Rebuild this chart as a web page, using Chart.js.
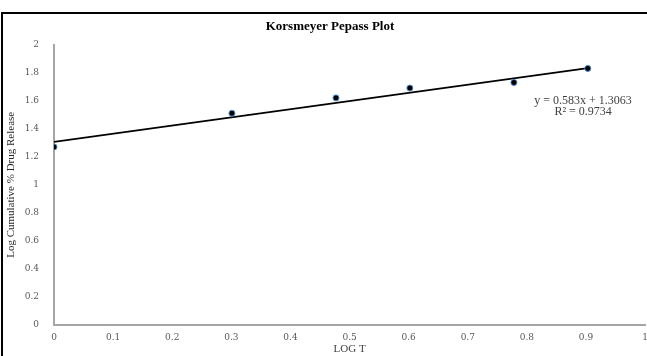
<!DOCTYPE html>
<html>
<head>
<meta charset="utf-8">
<script src="https://cdn.jsdelivr.net/npm/chart.js@4.4.1/dist/chart.umd.min.js"></script>
<style>
  html, body { margin: 0; padding: 0; background: #fff; overflow: hidden; }
  #frame { position: absolute; left: 1px; top: 12px; width: 700px; height: 400px; border: 2px solid #000; }
  #wrap { position: absolute; left: 0; top: 0; width: 655px; height: 356px; }
</style>
</head>
<body>
<div id="frame"></div>
<div id="wrap"><canvas id="chart"></canvas></div>
<script>
// Korsmeyer Peppas: log T vs log cumulative % drug release
const logT = [0, 0.301, 0.477, 0.602, 0.778, 0.903];
const logRelease = [1.27, 1.51, 1.62, 1.69, 1.73, 1.83];

// Linear trendline ends (y = 0.583x + 1.3063)
const trendX = [0, 0.903];
const trendY = [1.3063, 1.8328];

const xTicks = [0, 0.1, 0.2, 0.3, 0.4, 0.5, 0.6, 0.7, 0.8, 0.9, 1];
const yTicks = [0, 0.2, 0.4, 0.6, 0.8, 1, 1.2, 1.4, 1.6, 1.8, 2];

const equationLines = ['y = 0.583x + 1.3063', 'R\u00b2 = 0.9734'];

const serif = '"Liberation Serif", "Times New Roman", serif';

// Texto da equação perto da linha de tendência
const equationLabel = {
    id: 'equationLabel',
    afterDatasetsDraw(chart) {
        const ctx = chart.ctx;
        const x = chart.scales.x.getPixelForValue(0.895);
        const y = chart.scales.y.getPixelForValue(1.6);
        ctx.save();
        ctx.font = '12px ' + serif;
        ctx.fillStyle = '#404040';
        ctx.textAlign = 'center';
        ctx.textBaseline = 'middle';
        ctx.fillText(equationLines[0], x, y);
        ctx.fillText(equationLines[1], x, y + 11);
        ctx.restore();
    }
};

new Chart(document.getElementById('chart'), {
    type: 'scatter',
    data: {
        datasets: [
            {
                label: 'Trendline',
                data: trendX.map((v, i) => ({ x: v, y: trendY[i] })),
                showLine: true,
                borderColor: '#000',
                borderWidth: 1.7,
                pointRadius: 0,
                order: 2
            },
            {
                label: 'Log cumulative % drug release',
                data: logT.map((v, i) => ({ x: v, y: logRelease[i] })),
                pointRadius: 3,
                pointBackgroundColor: '#000',
                pointBorderColor: '#4a86c8',
                pointBorderWidth: 1,
                order: 1
            }
        ]
    },
    options: {
        responsive: true,
        maintainAspectRatio: false,
        animation: false,
        layout: { padding: { left: 5, top: 19, right: 0, bottom: 0 } },
        plugins: {
            legend: { display: false },
            tooltip: { enabled: false },
            title: {
                display: true,
                text: 'Korsmeyer Pepass Plot',
                color: '#000',
                font: { family: serif, size: 13, weight: 'bold' },
                padding: { top: 0, bottom: 10 }
            }
        },
        scales: {
            x: {
                type: 'linear',
                min: 0,
                max: 1,
                afterBuildTicks: axis => { axis.ticks = xTicks.map(v => ({ value: v })); },
                afterFit: scale => { scale.height = 31; },
                grid: { display: false, drawTicks: false },
                border: { color: '#a6a6a6', width: 2 },
                ticks: {
                    color: '#595959',
                    padding: 7,
                    maxRotation: 0,
                    font: { family: '"DejaVu Serif", serif', size: 9 },
                    callback: v => String(v)
                },
                title: {
                    display: true,
                    text: 'LOG T',
                    color: '#404040',
                    font: { family: serif, size: 11 },
                    padding: { top: 0, bottom: 0 }
                }
            },
            y: {
                type: 'linear',
                min: 0,
                max: 2,
                afterBuildTicks: axis => { axis.ticks = yTicks.map(v => ({ value: v })); },
                afterFit: scale => { scale.width = 49; },
                grid: { display: false, drawTicks: false },
                border: { color: '#a6a6a6', width: 2 },
                ticks: {
                    color: '#595959',
                    padding: 15,
                    font: { family: '"DejaVu Serif", serif', size: 9 },
                    callback: v => String(v)
                },
                title: {
                    display: true,
                    text: 'Log Cumulative % Drug Release',
                    color: '#262626',
                    font: { family: serif, size: 11 },
                    padding: { top: 0, bottom: 2 }
                }
            }
        }
    },
    plugins: [equationLabel]
});
</script>
</body>
</html>
